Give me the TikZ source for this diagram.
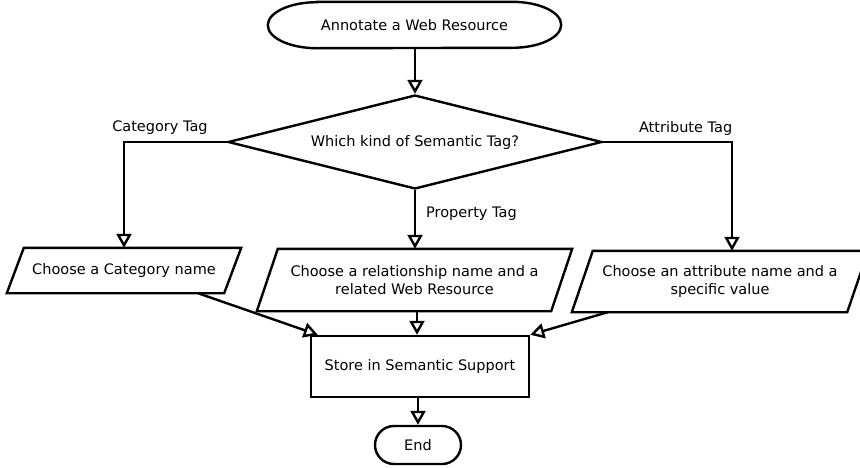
\documentclass[tikz,border=0pt]{standalone}
\usepackage{fontspec}
\setmainfont{DejaVu Sans}
\usetikzlibrary{arrows.meta,shapes.geometric,shapes.misc}
\tikzset{
  every node/.style={font=\fontsize{14.5}{18}\selectfont},
  ln/.style={line width=2.4pt, line join=miter},
  conn/.style={ln, -{Triangle[open, length=14pt, width=15pt, line width=2.4pt]}},
  txt/.style={inner sep=0pt, align=center},
  lbl/.style={inner sep=0pt},
}
\begin{document}
\begin{tikzpicture}[x=1pt,y=-1pt]
\useasboundingbox (0,0) rectangle (860,467);
% start terminal
\node[txt, minimum width=293pt, minimum height=46pt] (start) at (414.5,25) {Annotate a Web Resource};
\draw[ln] ([xshift=49pt]start.north west) -- ([xshift=-49pt]start.north east)
  arc[start angle=90, end angle=-90, x radius=49pt, y radius=23pt]
  -- ([xshift=49pt]start.south west)
  arc[start angle=270, end angle=90, x radius=49pt, y radius=23pt] -- cycle;
% decision
\node[ln, draw, diamond, aspect=4, minimum width=374pt, minimum height=94pt, inner sep=0pt] (dec) at (415,142) {Which kind of Semantic Tag?};
% parallelograms
\node[txt, minimum width=234pt, minimum height=45pt] (p1) at (124,270.5) {Choose a Category name};
\draw[ln] ([xshift=17pt]p1.north west) -- (p1.north east) -- ([xshift=-17pt]p1.south east) -- (p1.south west) -- cycle;
\node[txt, minimum width=315pt, minimum height=62pt] (p2) at (414.5,280) {Choose a relationship name and a\\related Web Resource};
\draw[ln] ([xshift=21pt]p2.north west) -- (p2.north east) -- ([xshift=-21pt]p2.south east) -- (p2.south west) -- cycle;
\node[txt, minimum width=296pt, minimum height=61pt] (p3) at (720,281.5) {Choose an attribute name and a\\specific value};
\draw[ln] ([xshift=21pt]p3.north west) -- (p3.north east) -- ([xshift=-21pt]p3.south east) -- (p3.south west) -- cycle;
% store
\node[ln, draw, rectangle, minimum width=218pt, minimum height=61pt, inner sep=0pt] (st) at (420,366.5) {Store in Semantic Support};
% end
\node[ln, draw, rounded rectangle, minimum width=86pt, minimum height=38pt, inner sep=0pt] (en) at (418,445) {End};
% connectors
\draw[conn] (start.south -| dec.north) -- (dec.north);
\draw[conn] (dec.west) -| node[lbl, pos=0.325, yshift=14pt] (lc) {Category Tag} (p1.north);
\draw[conn] (dec.east) -| node[lbl, pos=0.32, yshift=14pt] (la) {Attribute Tag} ([xshift=12pt]p3.north);
\draw[conn] (dec.south) -- node[lbl, pos=0.4, anchor=west, xshift=10pt] (lp) {Property Tag} (dec.south |- p2.north);
\draw[conn] ([xshift=74pt]p1.south) -- ([xshift=8pt]st.north west);
\draw[conn] ([xshift=2.5pt]p2.south) -- ([xshift=-3pt]st.north);
\draw[conn] ([xshift=36pt]p3.south west) -- (st.north east);
\draw[conn] (st.south -| en.north) -- (en.north);
\end{tikzpicture}
\end{document}
